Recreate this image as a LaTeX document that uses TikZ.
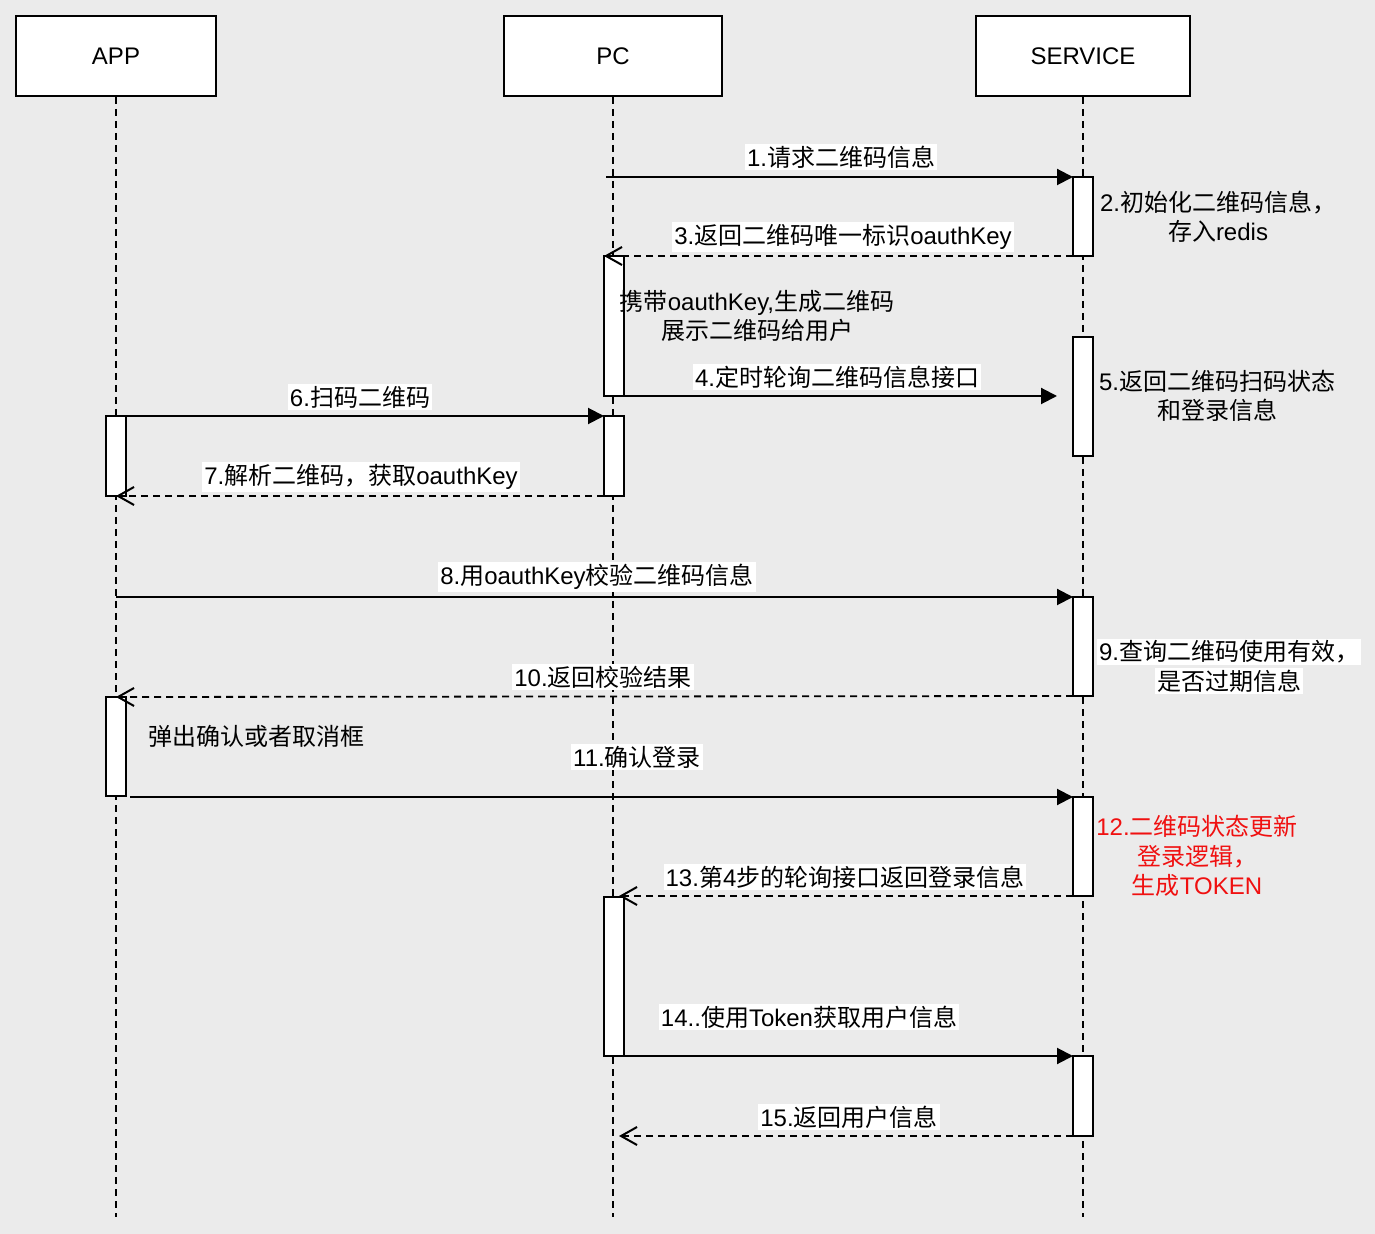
\documentclass[tikz,border=0pt]{standalone}
\usepackage{fontspec}
\setmainfont{Liberation Sans}
\newfontfamily\cjk{Noto Sans CJK SC}
\usetikzlibrary{arrows.meta}
\definecolor{bgc}{RGB}{235,235,235}
\definecolor{notered}{RGB}{240,16,16}
% Chinese runs go in the CJK face
\newcommand\zh[1]{{\cjk #1}}

\tikzset{
  actor/.style={draw, line width=1pt, fill=white, minimum height=40pt},
  bar/.style={draw, line width=1pt, fill=white, minimum width=10pt, inner sep=0pt, outer sep=0pt},
  life/.style={line width=0.8pt, dash pattern=on 3.5pt off 2.5pt},
  call/.style={line width=1pt, -{Triangle[length=8pt,width=8pt]}},
  back/.style={line width=0.9pt, dash pattern=on 3.5pt off 2.5pt, -{Straight Barb[length=8pt,width=9pt,line width=1pt]}},
  lbl/.style={fill=white, inner sep=1pt},
  note/.style={align=center, inner sep=0pt}
}

\begin{document}
\begin{tikzpicture}[x=0.5pt, y=-0.5pt, every node/.style={font=\fontsize{12pt}{14.75pt}\selectfont}]
		\fill[bgc] (0,0) rectangle (1375,1234);

		% lifelines
		\node[actor, minimum width=100pt] (app) at (116,56) {APP};
		\node[actor, minimum width=109pt] (pc) at (613,56) {PC};
		\node[actor, minimum width=107pt] (srv) at (1083,56) {SERVICE};

		\coordinate (append) at (116,1217);
		\coordinate (pcend) at (613,1217);
		\coordinate (srvend) at (1083,1217);
		\draw[life] (app.south) -- (append);
		\draw[life] (pc.south) -- (pcend);
		\draw[life] (srv.south) -- (srvend);

		% activation bars
		\node[bar, minimum height=39.5pt] (s1) at (1083,216.5) {};
		\node[bar, minimum height=59.5pt] (s2) at (1083,396.5) {};
		\node[bar, minimum height=49.5pt] (s3) at (1083,646.5) {};
		\node[bar, minimum height=49.5pt] (s4) at (1083,846.5) {};
		\node[bar, minimum height=40pt] (s5) at (1083,1096) {};

		\node[bar, minimum height=70pt] (p1) at (614,326) {};
		\node[bar, minimum height=40pt] (p2) at (614,456) {};
		\node[bar, minimum height=79.5pt] (p3) at (614,976.5) {};

		\node[bar, minimum height=40pt] (a1) at (116,456) {};
		\node[bar, minimum height=49.5pt] (a2) at (116,746.5) {};

		% free ends
		\coordinate (m1) at (606,177);
		\coordinate (m4) at (1057,396);
		\coordinate (m8) at (116,597);
		\coordinate (m11) at (130,797);
		\coordinate (m13) at (619,896);
		\coordinate (m15) at (619,1136);

		% messages
		\draw[call] (m1) -- (s1.north west);
		\draw[back] (s1.south west) -- (p1.north west);
		\draw[call] (p1.south east) -- (m4);
		\draw[call] (a1.north east) -- (p2.north west);
		\draw[back] (p2.south west) -- (a1.south);
		\draw[call] (m8) -- (s3.north west);
		\draw[back] (s3.south west) -- (a2.north);
		\draw[call] (m11) -- (s4.north west);
		\draw[back] (s4.south west) -- (m13);
		\draw[call] (p3.south east) -- (s5.north west);
		\draw[back] (s5.south west) -- (m15);

		% labels
		\node[lbl] (l1) at (841,157) {1.\zh{请求二维码信息}};
		\node[lbl] (l3) at (843,237) {3.\zh{返回二维码唯一标识}oauthKey};
		\node[lbl] (l4) at (837,377) {4.\zh{定时轮询二维码信息接口}};
		\node[lbl] (l6) at (360,397) {6.\zh{扫码二维码}};
		\node[lbl] (l7) at (361,477) {7.\zh{解析二维码，获取}oauthKey};
		\node[lbl] (l8) at (597,577) {8.\zh{用}oauthKey\zh{校验二维码信息}};
		\node[lbl] (l10) at (603,677) {10.\zh{返回校验结果}};
		\node[lbl] (l11) at (637,757) {11.\zh{确认登录}};
		\node[lbl] (l13) at (845,877) {13.\zh{第}4\zh{步的轮询接口返回登录信息}};
		\node[lbl] (l14) at (809,1017) {14..\zh{使用}Token\zh{获取用户信息}};
		\node[lbl] (l15) at (849,1117) {15.\zh{返回用户信息}};

		% notes
		\node[note] (n2) at (1218,217) {2.\zh{初始化二维码信息，}\\\zh{存入}redis};
		\node[note] (npc) at (757,316) {\zh{携带}oauthKey,\zh{生成二维码}\\\zh{展示二维码给用户}};
		\node[note] (n5) at (1217,396) {5.\zh{返回二维码扫码状态}\\\zh{和登录信息}};
		\node[lbl] (n9a) at (1229,652) {9.\zh{查询二维码使用有效，}};
		\node[lbl] (n9b) at (1229,681) {\zh{是否过期信息}};
		\node[note, text=notered] (n12) at (1197,856) {12.\zh{二维码状态更新}\\\zh{登录逻辑，}\\\zh{生成}TOKEN};
		\node[note, anchor=west] (napp) at (148,736) {\zh{弹出确认或者取消框}};
	\end{tikzpicture}
\end{document}
